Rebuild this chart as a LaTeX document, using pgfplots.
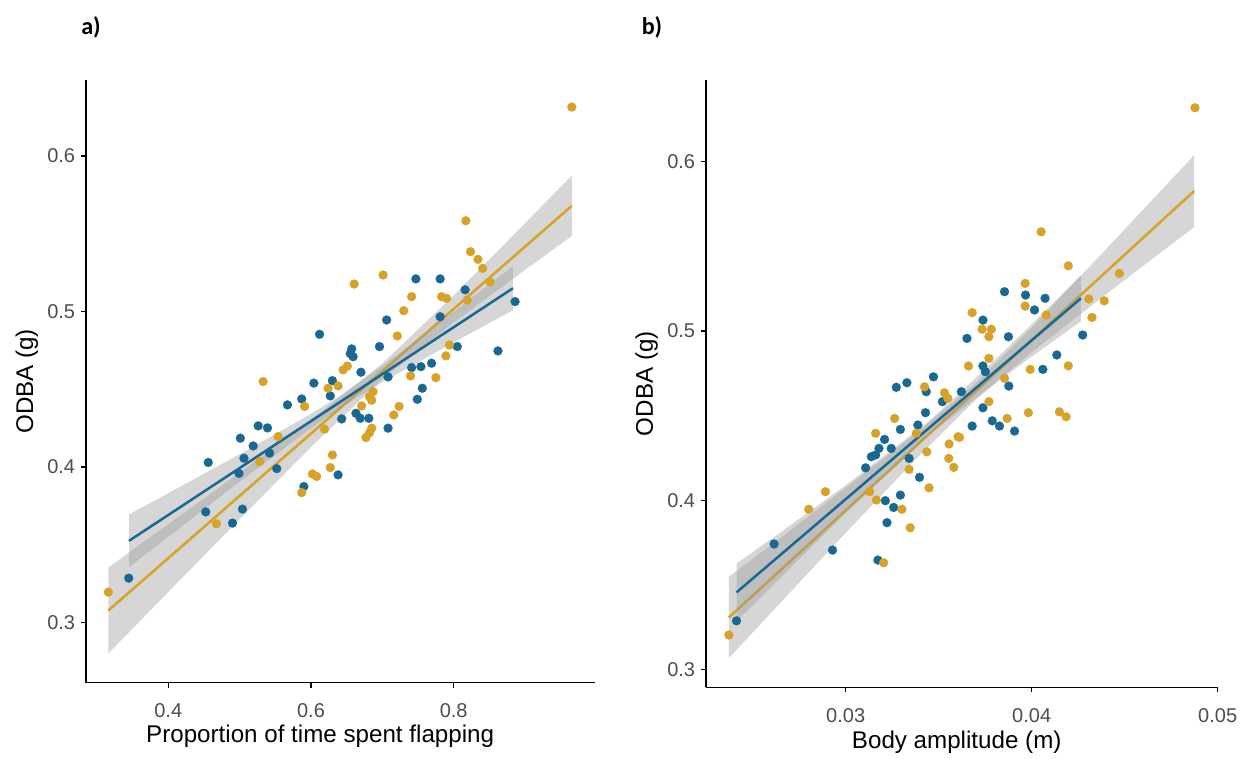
\documentclass[border=0pt]{standalone}
\usepackage{pgfplots}
\pgfplotsset{compat=1.18}
\usepackage{pgfplotstable}
\usepackage{fontspec}
\setmainfont{Liberation Sans}
\newfontfamily\panelfont{Carlito}
\definecolor{cblue}{RGB}{24,104,145}
\definecolor{cgold}{RGB}{214,162,40}
\definecolor{ticktext}{RGB}{77,77,77}
\definecolor{ribbon}{RGB}{153,153,153}

% ---------- panel a data ----------
\pgfplotstableread{
x y
0.3446 0.3286
0.4525 0.3712
0.456 0.403
0.490 0.364
0.499 0.396
0.501 0.4186
0.504 0.373
0.506 0.4057
0.519 0.4136
0.526 0.4265
0.539 0.4252
0.542 0.409
0.552 0.399
0.567 0.440
0.587 0.4438
0.590 0.3875
0.604 0.454
0.612 0.4854
0.627 0.4458
0.630 0.4556
0.638 0.395
0.643 0.431
0.655 0.473
0.657 0.476
0.659 0.471
0.663 0.4346
0.669 0.4314
0.670 0.461
0.681 0.4314
0.696 0.4775
0.706 0.4946
0.708 0.425
0.708 0.458
0.741 0.464
0.747 0.521
0.749 0.4436
0.754 0.4646
0.756 0.4507
0.769 0.4668
0.781 0.521
0.781 0.4967
0.805 0.4775
0.816 0.514
0.862 0.4747
0.886 0.5064
}\Ablue
\pgfplotstableread{
x y
0.316 0.3196
0.4675 0.3636
0.528 0.4035
0.533 0.455
0.554 0.4196
0.587 0.3836
0.591 0.439
0.602 0.3956
0.608 0.394
0.619 0.4244
0.624 0.4507
0.627 0.3997
0.630 0.4078
0.638 0.4522
0.645 0.4625
0.651 0.465
0.6605 0.5177
0.671 0.4393
0.677 0.419
0.682 0.422
0.685 0.425
0.682 0.4453
0.687 0.4485
0.685 0.443
0.701 0.5235
0.716 0.4335
0.721 0.4843
0.7235 0.439
0.730 0.5006
0.7395 0.4586
0.741 0.5096
0.775 0.4575
0.783 0.5096
0.789 0.4715
0.790 0.5085
0.794 0.4785
0.817 0.5584
0.819 0.5075
0.8235 0.5385
0.834 0.5336
0.8405 0.5278
0.851 0.519
0.9655 0.6315
}\Agold
% fitted lines
\pgfplotstableread{
x y
0.345 0.3526
0.883 0.5150
}\Abluefit
\pgfplotstableread{
x y
0.316 0.3078
0.9655 0.5680
}\Agoldfit
% confidence bands (upper edge left to right, lower edge right to left)
\pgfplotstableread{
x y
0.345 0.3696
0.400 0.3832
0.500 0.4082
0.600 0.4342
0.640 0.4457
0.700 0.4650
0.800 0.4998
0.883 0.5292
0.883 0.5008
0.800 0.4802
0.700 0.4546
0.640 0.4377
0.600 0.4250
0.500 0.3906
0.400 0.3552
0.345 0.3356
}\Ablueband
\pgfplotstableread{
x y
0.316 0.3354
0.400 0.3633
0.500 0.3965
0.600 0.4303
0.700 0.4666
0.800 0.5104
0.900 0.5568
0.9655 0.5874
0.9655 0.5486
0.900 0.5268
0.800 0.4930
0.700 0.4566
0.600 0.4129
0.500 0.3665
0.400 0.3197
0.316 0.2802
}\Agoldband

% ---------- panel b data ----------
\pgfplotstableread{
x y
0.02413 0.3287
0.02615 0.3741
0.02929 0.3705
0.03173 0.3646
0.03222 0.3867
0.03258 0.3957
0.03213 0.3997
0.03294 0.4030
0.03107 0.4191
0.03138 0.4257
0.03161 0.4267
0.03179 0.4306
0.03209 0.4359
0.03245 0.4306
0.03294 0.4418
0.03272 0.4667
0.03329 0.4694
0.03388 0.4444
0.03429 0.4517
0.03397 0.4135
0.03341 0.4247
0.03433 0.4641
0.03472 0.4729
0.03520 0.4582
0.03854 0.5232
0.03967 0.5212
0.04072 0.5193
0.04015 0.5124
0.03738 0.5064
0.03652 0.4956
0.03875 0.4966
0.04274 0.4976
0.03738 0.4793
0.03751 0.4759
0.03877 0.4674
0.04135 0.4858
0.04060 0.4773
0.03622 0.4641
0.03738 0.4546
0.03788 0.4469
0.03827 0.4438
0.03680 0.4438
0.03908 0.4408
}\Bblue
\pgfplotstableread{
x y
0.02372 0.3203
0.02801 0.3946
0.02891 0.4050
0.03204 0.3630
0.03347 0.3837
0.03302 0.3946
0.03165 0.4001
0.03129 0.4050
0.03161 0.4395
0.03263 0.4483
0.03436 0.4286
0.03341 0.4182
0.03448 0.4073
0.03424 0.4670
0.03531 0.4635
0.03549 0.4602
0.03380 0.4395
0.03604 0.4375
0.03556 0.4332
0.03554 0.4247
0.03581 0.4194
0.04051 0.5586
0.04197 0.5385
0.03965 0.5281
0.03965 0.5147
0.04078 0.5094
0.03680 0.5108
0.03733 0.5010
0.03783 0.5010
0.03770 0.4966
0.04307 0.5189
0.04390 0.5178
0.04324 0.5080
0.03770 0.4838
0.03660 0.4793
0.03854 0.4720
0.04197 0.4794
0.03992 0.4773
0.03770 0.4582
0.03982 0.4517
0.04149 0.4522
0.04185 0.4493
0.03868 0.4483
0.03612 0.4371
0.04878 0.6319
0.04471 0.5340
}\Bgold
\pgfplotstableread{
x y
0.02413 0.3455
0.04265 0.5193
}\Bbluefit
\pgfplotstableread{
x y
0.02372 0.3307
0.04874 0.5827
}\Bgoldfit
\pgfplotstableread{
x y
0.02413 0.3625
0.02700 0.3850
0.03000 0.4088
0.03450 0.4468
0.03800 0.4826
0.04000 0.5040
0.04265 0.5329
0.04265 0.5057
0.04000 0.4848
0.03800 0.4688
0.03450 0.4388
0.03000 0.3924
0.02700 0.3598
0.02413 0.3285
}\Bblueband
\pgfplotstableread{
x y
0.02372 0.3547
0.02700 0.3820
0.03000 0.4073
0.03400 0.4415
0.03700 0.4694
0.04000 0.5020
0.04400 0.5483
0.04874 0.6039
0.04874 0.5615
0.04400 0.5217
0.04000 0.4874
0.03700 0.4594
0.03400 0.4269
0.03000 0.3807
0.02700 0.3454
0.02372 0.3067
}\Bgoldband

\pgfplotsset{
  panel/.style={
    scale only axis,
    anchor=south west,
    axis lines*=left,
    axis line style={black, line width=0.8pt},
    tick style={black, line width=0.8pt},
    tick align=outside,
    major tick length=3pt,
    scaled x ticks=false,
    scaled y ticks=false,
    ticklabel style={font=\fontsize{12}{14}\selectfont, text=ticktext},
    xticklabel style={yshift=-6pt},
    label style={font=\fontsize{14.5}{17}\selectfont, text=black},
    /pgf/number format/assume math mode=true,
    ytick={0.3,0.4,0.5,0.6},
    yticklabels={0.3,0.4,0.5,0.6},
    ylabel={ODBA (g)},
    ylabel style={at={(axis description cs:-0.116,0.5)}, anchor=center},
  },
  pts/.style={only marks, mark=*, mark size=2.7pt, mark options={fill=#1, draw=#1, line width=0.1pt}},
  rib/.style={fill=ribbon, fill opacity=0.4, draw=none, no marks},
  fitline/.style={#1, line width=1.5pt, no marks},
}

\begin{document}
\begin{tikzpicture}
\path[use as bounding box] (0,0) rectangle (751.2pt,454.8pt);

\node[font=\panelfont\bfseries\fontsize{14.5}{16}\selectfont, anchor=center] at (54.6pt,438.6pt) {a)};
\node[font=\panelfont\bfseries\fontsize{14.5}{16}\selectfont, anchor=center] at (391.2pt,438.6pt) {b)};

% ---------- panel a ----------
\begin{axis}[panel,
  at={(51.6pt,45.2pt)}, width=305.4pt, height=361.6pt,
  xmin=0.2847, xmax=0.998, ymin=0.2614, ymax=0.6489,
  xtick={0.4,0.6,0.8}, xticklabels={0.4,0.6,0.8},
  xlabel={Proportion of time spent flapping},
  xlabel style={at={(axis description cs:0.46,0)}, anchor=center, yshift=-32.4pt},
]
\addplot[pts=cblue] table[x=x,y=y] {\Ablue};
\addplot[pts=cgold] table[x=x,y=y] {\Agold};
\addplot[rib] table[x=x,y=y] {\Agoldband} -- cycle;
\addplot[fitline=cgold] table[x=x,y=y] {\Agoldfit};
\addplot[rib] table[x=x,y=y] {\Ablueband} -- cycle;
\addplot[fitline=cblue] table[x=x,y=y] {\Abluefit};
\end{axis}

% ---------- panel b ----------
\begin{axis}[panel,
  at={(423.6pt,42.4pt)}, width=307pt, height=364.4pt,
  xmin=0.02249, xmax=0.05, ymin=0.2894, ymax=0.6483,
  xtick={0.03,0.04,0.05}, xticklabels={0.03,0.04,0.05},
  xlabel={Body amplitude (m)},
  xlabel style={at={(axis description cs:0.49,0)}, anchor=center, yshift=-33pt},
]
\addplot[pts=cblue] table[x=x,y=y] {\Bblue};
\addplot[pts=cgold] table[x=x,y=y] {\Bgold};
\addplot[rib] table[x=x,y=y] {\Bgoldband} -- cycle;
\addplot[fitline=cgold] table[x=x,y=y] {\Bgoldfit};
\addplot[rib] table[x=x,y=y] {\Bblueband} -- cycle;
\addplot[fitline=cblue] table[x=x,y=y] {\Bbluefit};
\end{axis}
\end{tikzpicture}
\end{document}
